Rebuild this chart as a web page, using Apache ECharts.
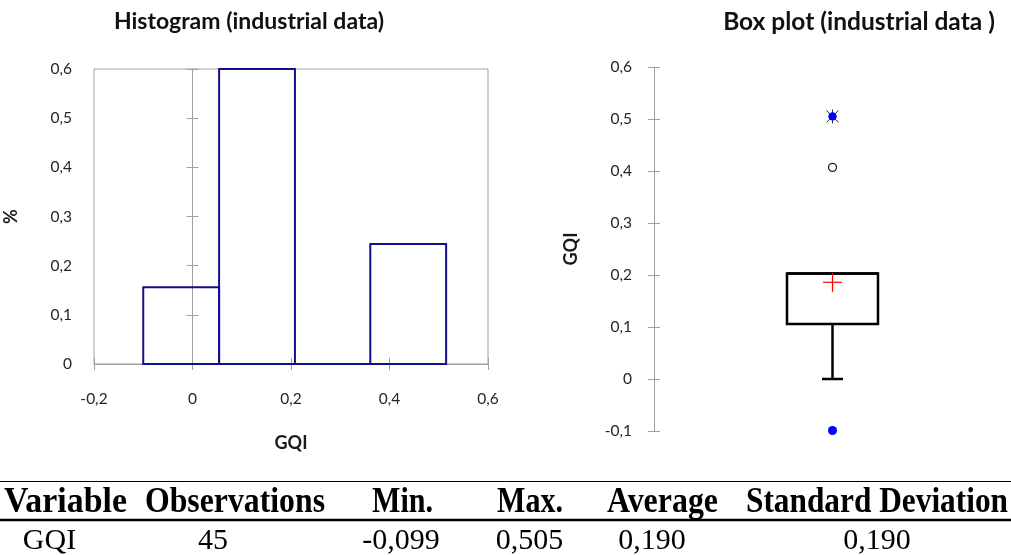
<!DOCTYPE html>
<html><head><meta charset="utf-8">
<script src="https://cdn.jsdelivr.net/npm/echarts@6/dist/echarts.min.js"></script>
<style>html,body{margin:0;padding:0;background:#fff}#c{width:1011px;height:555px}</style>
</head><body><div id="c"></div>
<script>
// ---------- DATA ----------
const histBinEdges = [-0.1, 0.054, 0.208, 0.361, 0.515];
const histFreq = [0.156, 0.6, 0, 0.244];
const histXTicks = [-0.2, 0.6, 0.2];      // min, max, step
const histYTicks = [0, 0.6, 0.1];
const boxYTicks = [-0.1, 0.6, 0.1];
const boxCategory = ['GQI'];
const boxLowWhisker = [0.0];
const boxQ1 = [0.106];
const boxMedian = [0.203];
const boxQ3 = [0.203];
const boxHighWhisker = [0.203];
const boxMean = [0.186];
const boxMinPoint = [-0.099];
const boxMaxPoint = [0.505];
const boxOutliers = [0.407];
const tableHeaders = ['Variable', 'Observations', 'Min.', 'Max.', 'Average', 'Standard Deviation'];
const tableRow = ['GQI', '45', '-0,099', '0,505', '0,190', '0,190'];

// ---------- LAYOUT / STYLE ----------
const FONT = 'Lato';
const SERIF_NAME = 'Liberation Serif';
const SERIF = '"Liberation Serif", "Times New Roman", serif';
const AXIS_GRAY = '#a0a0a0';
const LABEL_COLOR = '#262626';
const HIST_BLUE = '#10108a';
const headerX = [65.5, 235, 402.5, 530, 662.5, 877];
const headerW = [123, 180, 61, 66, 111, 262];
const rowX = [49.5, 213, 401, 529.5, 652, 877];

const fmt = v => (Math.abs(v) < 1e-9 ? '0' : (Math.round(v * 10) / 10).toFixed(1).replace('.', ','));
const mctx = document.createElement('canvas').getContext('2d');
function measure(t, font) { mctx.font = font; return mctx.measureText(t).width; }

const histData = histFreq.map((f, i) => [histBinEdges[i], histBinEdges[i + 1], f]);

const labelStyle = { color: LABEL_COLOR, fontFamily: FONT, fontSize: 15.5 };
const nameStyle = { color: '#1a1a1a', fontFamily: FONT, fontSize: 18, fontWeight: 'bold' };

const chart = echarts.init(document.getElementById('c'), null, { renderer: 'canvas' });

const HEADER_FS = 35;
const ROW_FS = 30;

const option = {
  animation: false,
  backgroundColor: '#fff',
  grid: [
    { left: 94, top: 69, width: 394, height: 295, show: true, borderColor: AXIS_GRAY, borderWidth: 1, backgroundColor: 'transparent' },
    { left: 654, top: 67, width: 361, height: 364 }
  ],
  xAxis: [
    { gridIndex: 0, type: 'value', min: histXTicks[0], max: histXTicks[1], interval: histXTicks[2], position: 'bottom',
      axisLine: { show: true, onZero: false, lineStyle: { color: AXIS_GRAY } },
      axisTick: { show: true, length: 6, lineStyle: { color: AXIS_GRAY } },
      axisLabel: Object.assign({ margin: 27, formatter: fmt }, labelStyle),
      splitLine: { show: false },
      name: 'GQI', nameLocation: 'middle', nameGap: 70, nameTextStyle: nameStyle },
    { gridIndex: 0, type: 'value', min: histXTicks[0], max: histXTicks[1], interval: histXTicks[2], position: 'bottom',
      axisLine: { show: false, onZero: false },
      axisTick: { show: true, inside: true, length: 6, lineStyle: { color: AXIS_GRAY } },
      axisLabel: { show: false }, splitLine: { show: false } },
    { gridIndex: 1, type: 'category', data: boxCategory, show: false,
      axisLine: { onZero: false } }
  ],
  yAxis: [
    { gridIndex: 0, type: 'value', min: histYTicks[0], max: histYTicks[1], interval: histYTicks[2], position: 'left',
      axisLine: { show: false, onZero: false }, axisTick: { show: false },
      axisLabel: Object.assign({ margin: 22, formatter: fmt }, labelStyle),
      splitLine: { show: false },
      name: '%', nameLocation: 'middle', nameGap: 74, nameRotate: 90, nameTextStyle: nameStyle },
    { gridIndex: 0, type: 'value', min: histYTicks[0], max: histYTicks[1], interval: histYTicks[2], position: 'left',
      axisLine: { show: true, onZero: true, onZeroAxisIndex: 0, lineStyle: { color: AXIS_GRAY } },
      axisTick: { show: true, length: 6, lineStyle: { color: AXIS_GRAY } },
      axisLabel: { show: false }, splitLine: { show: false } },
    { gridIndex: 0, type: 'value', min: histYTicks[0], max: histYTicks[1], interval: histYTicks[2], position: 'left',
      axisLine: { show: false, onZero: true, onZeroAxisIndex: 0 },
      axisTick: { show: true, inside: true, length: 6, lineStyle: { color: AXIS_GRAY } },
      axisLabel: { show: false }, splitLine: { show: false } },
    { gridIndex: 1, type: 'value', min: boxYTicks[0], max: boxYTicks[1], interval: boxYTicks[2], position: 'left',
      axisLine: { show: true, onZero: false, lineStyle: { color: AXIS_GRAY } },
      axisTick: { show: true, length: 6, lineStyle: { color: AXIS_GRAY } },
      axisLabel: Object.assign({ margin: 22, formatter: fmt }, labelStyle),
      splitLine: { show: false },
      name: 'GQI', nameLocation: 'middle', nameGap: 74, nameRotate: 90, nameTextStyle: nameStyle },
    { gridIndex: 1, type: 'value', min: boxYTicks[0], max: boxYTicks[1], interval: boxYTicks[2], position: 'left',
      axisLine: { show: false, onZero: false },
      axisTick: { show: true, inside: true, length: 6, lineStyle: { color: AXIS_GRAY } },
      axisLabel: { show: false }, splitLine: { show: false } }
  ],
  series: [
    { type: 'custom', xAxisIndex: 0, yAxisIndex: 0, data: histData, encode: { x: [0, 1], y: 2 }, clip: false,
      renderItem: function (params, api) {
        const p0 = api.coord([api.value(0), 0]);
        const p1 = api.coord([api.value(1), api.value(2)]);
        return { type: 'rect', shape: { x: p0[0], y: p1[1], width: p1[0] - p0[0], height: p0[1] - p1[1] },
          style: { fill: 'none', stroke: HIST_BLUE, lineWidth: 2 } };
      } },
    { type: 'custom', xAxisIndex: 2, yAxisIndex: 3, clip: false,
      data: boxCategory.map((c, i) => [i, boxLowWhisker[i], boxQ1[i], boxMedian[i], boxQ3[i], boxHighWhisker[i]]),
      encode: { x: 0, y: [1, 2, 3, 4, 5] },
      renderItem: function (params, api) {
        const i = api.value(0);
        const cx = api.coord([i, 0])[0];
        const yLow = api.coord([i, api.value(1)])[1];
        const yQ1 = api.coord([i, api.value(2)])[1];
        const yMed = api.coord([i, api.value(3)])[1];
        const yQ3 = api.coord([i, api.value(4)])[1];
        const yHigh = api.coord([i, api.value(5)])[1];
        const hw = 45.5, cap = 10.5;
        const st = { stroke: '#000', lineWidth: 2.5, fill: 'none' };
        const children = [
          { type: 'rect', shape: { x: cx - hw, y: yQ3, width: 2 * hw, height: yQ1 - yQ3 }, style: st },
          { type: 'line', shape: { x1: cx - hw, y1: yMed, x2: cx + hw, y2: yMed }, style: st },
          { type: 'line', shape: { x1: cx, y1: yQ1, x2: cx, y2: yLow }, style: st },
          { type: 'line', shape: { x1: cx - cap, y1: yLow, x2: cx + cap, y2: yLow }, style: st }
        ];
        if (yHigh < yQ3 - 0.5) {
          children.push({ type: 'line', shape: { x1: cx, y1: yQ3, x2: cx, y2: yHigh }, style: st });
          children.push({ type: 'line', shape: { x1: cx - cap, y1: yHigh, x2: cx + cap, y2: yHigh }, style: st });
        }
        return { type: 'group', children: children };
      } },
    { type: 'custom', xAxisIndex: 2, yAxisIndex: 3, clip: false,
      data: boxCategory.map((c, i) => [i, boxMean[i]]), encode: { x: 0, y: 1 }, z: 5,
      renderItem: function (params, api) {
        const p = api.coord([api.value(0), api.value(1)]);
        const s = 9.5;
        const st = { stroke: '#ff0000', lineWidth: 1.2 };
        return { type: 'group', children: [
          { type: 'line', shape: { x1: p[0] - s, y1: p[1], x2: p[0] + s, y2: p[1] }, style: st },
          { type: 'line', shape: { x1: p[0], y1: p[1] - s, x2: p[0], y2: p[1] + s }, style: st }
        ] };
      } },
    { type: 'scatter', xAxisIndex: 2, yAxisIndex: 3, symbol: 'circle', symbolSize: 8,
      data: boxCategory.map((c, i) => [i, boxOutliers[i]]),
      itemStyle: { color: '#fff', borderColor: '#222', borderWidth: 1.3, opacity: 1 }, z: 4 },
    { type: 'scatter', xAxisIndex: 2, yAxisIndex: 3, symbol: 'circle', symbolSize: 9,
      data: boxCategory.map((c, i) => [i, boxMinPoint[i]]),
      itemStyle: { color: '#0000ff', opacity: 1 }, z: 4 },
    { type: 'custom', xAxisIndex: 2, yAxisIndex: 3, clip: false, z: 4,
      data: boxCategory.map((c, i) => [i, boxMaxPoint[i]]), encode: { x: 0, y: 1 },
      renderItem: function (params, api) {
        const p = api.coord([api.value(0), api.value(1)]);
        const s = 6;
        const st = { stroke: '#333', lineWidth: 1 };
        return { type: 'group', children: [
          { type: 'line', shape: { x1: p[0] - s, y1: p[1] - s, x2: p[0] + s, y2: p[1] + s }, style: st },
          { type: 'line', shape: { x1: p[0] - s, y1: p[1] + s, x2: p[0] + s, y2: p[1] - s }, style: st },
          { type: 'line', shape: { x1: p[0], y1: p[1] - s - 1, x2: p[0], y2: p[1] + s + 1 }, style: st },
          { type: 'circle', shape: { cx: p[0], cy: p[1], r: 4.2 }, style: { fill: '#0000ff' } }
        ] };
      } }
  ],
  graphic: [
    { type: 'text', x: 249, y: 22, style: { text: 'Histogram (industrial data)', fontFamily: FONT, fontSize: 23, fontWeight: 'bold', fill: '#111', align: 'center', verticalAlign: 'middle', textAlign: 'center', textVerticalAlign: 'middle' } },
    { type: 'text', x: 859, y: 22, style: { text: 'Box plot (industrial data )', fontFamily: FONT, fontSize: 24.5, fontWeight: 'bold', fill: '#111', align: 'center', verticalAlign: 'middle', textAlign: 'center', textVerticalAlign: 'middle' } },
    { type: 'line', shape: { x1: 0, y1: 481.5, x2: 1011, y2: 481.5 }, style: { stroke: '#000', lineWidth: 1 } },
    { type: 'line', shape: { x1: 0, y1: 520, x2: 1011, y2: 520 }, style: { stroke: '#000', lineWidth: 2.5 } }
  ].concat(tableHeaders.map((t, i) => {
    const w = measure(t, 'bold ' + HEADER_FS + 'px "' + SERIF_NAME + '"');
    return {
      type: 'text', x: headerX[i], y: 503, scaleX: headerW[i] / w,
      style: { text: t, fontFamily: SERIF, fontSize: HEADER_FS, fontWeight: 'bold', fill: '#000', align: 'center', verticalAlign: 'middle', textAlign: 'center', textVerticalAlign: 'middle' }
    };
  })).concat(tableRow.map((t, i) => ({
    type: 'text', x: rowX[i], y: 541,
    style: { text: t, fontFamily: SERIF, fontSize: ROW_FS, fill: '#000', align: 'center', verticalAlign: 'middle', textAlign: 'center', textVerticalAlign: 'middle' }
  })))
};
chart.setOption(option);
</script></body></html>
